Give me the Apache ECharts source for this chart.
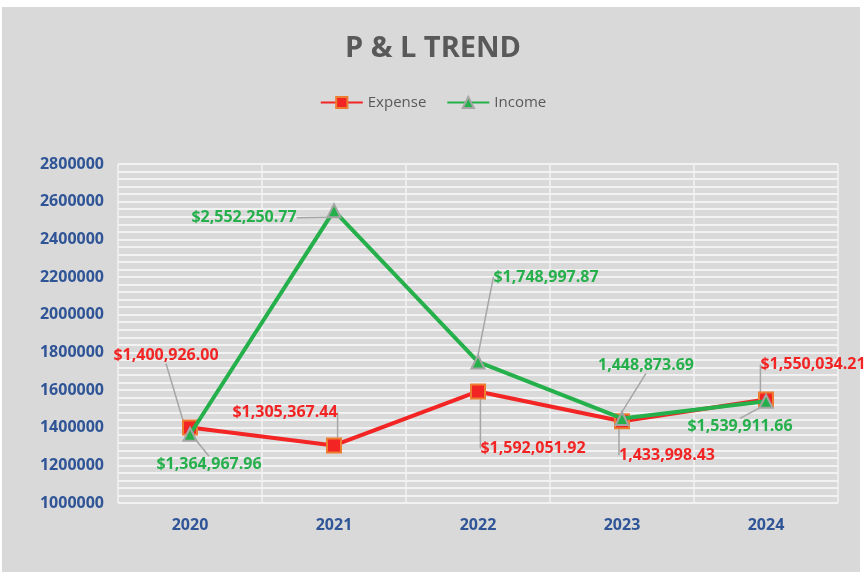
<!DOCTYPE html>
<html>
<head>
<meta charset="utf-8">
<script src="https://cdn.jsdelivr.net/npm/echarts@6/dist/echarts.min.js"></script>
<style>
  html, body { margin: 0; padding: 0; background: #fff; }
  #chart { width: 866px; height: 577px; }
</style>
</head>
<body>
<div id="chart"></div>
<script>
// values
const years = ['2020', '2021', '2022', '2023', '2024'];
const expense = [1400926.00, 1305367.44, 1592051.92, 1433998.43, 1550034.21];
const income = [1364967.96, 2552250.77, 1748997.87, 1448873.69, 1539911.66];
const expenseLabels = ['$1,400,926.00', '$1,305,367.44', '$1,592,051.92', '1,433,998.43', '$1,550,034.21'];
const incomeLabels = ['$1,364,967.96', '$2,552,250.77', '$1,748,997.87', '1,448,873.69', '$1,539,911.66'];

// where each data label sits relative to its point (px)
const labelOffsets = [
  [[-24, -72], [-49, -33], [55, 57], [45, 34], [47, -35]],
  [[19, 30], [-90, 7], [68, -85], [24, -53], [-26, 25]]
];

const red = '#f22424';
const green = '#25b04b';
const font = '"Open Sans", "DejaVu Sans", sans-serif';

let myChart = echarts.init(document.getElementById('chart'));

function placeLabel(params) {
  const off = labelOffsets[params.seriesIndex][params.dataIndex];
  const cx = params.rect.x + params.rect.width / 2;
  const cy = params.rect.y + params.rect.height / 2;
  return {
    x: cx + off[0],
    y: cy + off[1],
    align: 'center',
    verticalAlign: 'middle'
  };
}

const option = {
  backgroundColor: '#fff',
  graphic: [{
    type: 'rect',
    z: -10,
    silent: true,
    shape: { x: 2, y: 7, width: 858, height: 565 },
    style: { fill: '#d9d9d9' }
  }],
  title: {
    text: 'P & L TREND',
    left: 'center',
    top: 29,
    textStyle: { fontFamily: font, fontSize: 29, fontWeight: 'bold', color: '#595959' }
  },
  legend: {
    top: 90,
    left: 'center',
    itemWidth: 42,
    itemHeight: 14,
    itemGap: 20,
    textStyle: { fontFamily: font, fontSize: 15, color: '#595959' },
    data: ['Expense', 'Income']
  },
  grid: { left: 118, right: 28, top: 164, bottom: 74 },
  xAxis: {
    type: 'category',
    data: years,
    boundaryGap: true,
    axisLine: { show: false },
    axisTick: { show: false },
    axisLabel: { fontFamily: font, fontSize: 16, fontWeight: 'bold', color: '#2f5597', margin: 14 },
    splitLine: { show: true, interval: 0, lineStyle: { color: '#f2f2f2', width: 1.5 } },
    minorTick: { show: true, splitNumber: 2 },
    minorSplitLine: { show: true, lineStyle: { color: '#f2f2f2', width: 1.5 } }
  },
  yAxis: {
    type: 'value',
    min: 1000000,
    max: 2800000,
    interval: 200000,
    axisLine: { show: false },
    axisTick: { show: false },
    axisLabel: {
      formatter: v => String(v),
      fontFamily: font, fontSize: 16, fontWeight: 'bold', color: '#2f5597', margin: 14
    },
    splitLine: { lineStyle: { color: '#f2f2f2', width: 2 } },
    minorTick: { show: false, splitNumber: 5 },
    minorSplitLine: { show: true, lineStyle: { color: '#f2f2f2', width: 2 } }
  },
  series: [
    {
      name: 'Expense',
      type: 'line',
      data: expense,
      symbol: 'rect',
      symbolSize: 14,
      z: 3,
      lineStyle: { color: red, width: 4 },
      itemStyle: { color: red, borderColor: '#ed7d31', borderWidth: 2 },
      label: {
        show: true,
        formatter: p => expenseLabels[p.dataIndex],
        fontFamily: font, fontSize: 16, fontWeight: 'bold', color: red
      },
      labelLine: { show: true, lineStyle: { color: '#a6a6a6', width: 1.5 } },
      labelLayout: placeLabel
    },
    {
      name: 'Income',
      type: 'line',
      data: income,
      symbol: 'triangle',
      symbolSize: 13,
      z: 4,
      lineStyle: { color: green, width: 4 },
      itemStyle: { color: green, borderColor: '#a5a5a5', borderWidth: 2 },
      label: {
        show: true,
        formatter: p => incomeLabels[p.dataIndex],
        fontFamily: font, fontSize: 16, fontWeight: 'bold', color: green
      },
      labelLine: { show: true, lineStyle: { color: '#a6a6a6', width: 1.5 } },
      labelLayout: placeLabel
    }
  ]
};

myChart.setOption(option);
</script>
</body>
</html>
